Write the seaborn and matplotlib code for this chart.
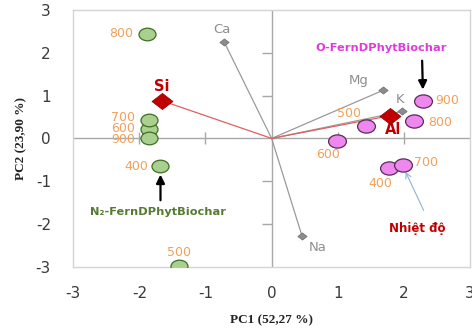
import matplotlib
matplotlib.use("Agg")
import matplotlib.pyplot as plt
import seaborn as sns
import pandas as pd
from matplotlib.path import Path
from matplotlib.transforms import Affine2D

# ---------------- data ----------------
temps = ["400", "500", "600", "700", "800", "900"]
n2_pc1 = [-1.68, -1.40, -1.85, -1.86, -1.88, -1.85]
n2_pc2 = [-0.65, -2.98, 0.23, 0.44, 2.44, 0.02]
o_pc1 = [1.77, 1.42, 0.99, 1.98, 2.15, 2.29]
o_pc2 = [-0.70, 0.28, -0.05, -0.63, 0.40, 0.88]

load_names = ["Ca", "Mg", "K", "Na"]
load_pc1 = [-0.72, 1.68, 1.97, 0.46]
load_pc2 = [2.26, 1.12, 0.63, -2.28]

key_names = ["Si", "Al"]
key_pc1 = [-1.66, 1.79]
key_pc2 = [0.88, 0.53]

xticks = [-3, -2, -1, 0, 1, 2, 3]
yticks = [-3, -2, -1, 0, 1, 2, 3]

# ---------------- style ----------------
sns.set_style("white")
plt.rcParams["font.family"] = ["DejaVu Sans"]
plt.rcParams["axes.unicode_minus"] = False

fig = plt.figure(figsize=(4.72, 3.28), dpi=100)
ax = fig.add_axes([0.155, 0.186, 0.841, 0.784])

ORANGE = "#F3A05A"
GRAY = "#9A9A9A"
RED = "#C00000"

ellipse = Path.unit_circle().transformed(Affine2D().scale(1.35, 1.0))
diamond = Path([(0, 1), (1.3, 0), (0, -1), (-1.3, 0), (0, 1)],
               [Path.MOVETO, Path.LINETO, Path.LINETO, Path.LINETO, Path.CLOSEPOLY])

# zero axes
ax.axhline(0, color="#A8A8A8", lw=1.0, zorder=1)
ax.axvline(0, color="#A8A8A8", lw=1.0, zorder=1)
xt_in = [t for t in xticks if t not in (0, xticks[0], xticks[-1])]
yt_in = [t for t in yticks if t not in (0, yticks[0], yticks[-1])]
ax.plot(xt_in, [0] * len(xt_in), ls="none", marker="|", ms=8, mew=1.0, color="#A8A8A8", zorder=1)
ax.plot([0] * len(yt_in), yt_in, ls="none", marker=0, ms=7, mew=1.0, color="#A8A8A8", zorder=1)

# loading lines
for x, y in zip(load_pc1, load_pc2):
    ax.plot([0, x], [0, y], color=GRAY, lw=0.9, zorder=2)
for x, y in zip(key_pc1, key_pc2):
    ax.plot([0, x], [0, y], color="#E06060", lw=0.9, zorder=2)

# scores
df_n2 = pd.DataFrame({"PC1": n2_pc1, "PC2": n2_pc2, "T": temps})
df_o = pd.DataFrame({"PC1": o_pc1, "PC2": o_pc2, "T": temps})
sns.scatterplot(data=df_n2, x="PC1", y="PC2", marker=ellipse, s=150,
                color="#A9D08E", edgecolor="#3F6E22", linewidth=0.9, ax=ax, zorder=4)
sns.scatterplot(data=df_o, x="PC1", y="PC2", marker=ellipse, s=165,
                color="#EE88EE", edgecolor="#5A2A5A", linewidth=0.9, ax=ax, zorder=4)

# loadings
df_l = pd.DataFrame({"PC1": load_pc1, "PC2": load_pc2})
sns.scatterplot(data=df_l, x="PC1", y="PC2", marker=diamond, s=45,
                color="#8C8C8C", edgecolor="#6E6E6E", linewidth=0.5, ax=ax, zorder=3)
df_k = pd.DataFrame({"PC1": key_pc1, "PC2": key_pc2})
sns.scatterplot(data=df_k, x="PC1", y="PC2", marker=diamond, s=230,
                color=RED, edgecolor="#900000", linewidth=0.5, ax=ax, zorder=5)

# labels for scores (offsets in pixels)
n2_off = {"400": (-12, 0, "right"), "500": (0, 14, "center"), "600": (-14, 0, "right"),
          "700": (-14, 2, "right"), "800": (-14, 0, "right"), "900": (-14, -2, "right")}
o_off = {"400": (-8, -15, "center"), "500": (-17, 13, "center"), "600": (-9, -14, "center"),
         "700": (11, 3, "left"), "800": (14, -1, "left"), "900": (12, 0, "left")}
for t, x, y in zip(temps, n2_pc1, n2_pc2):
    dx, dy, ha = n2_off[t]
    ax.annotate(t, (x, y), xytext=(dx, dy), textcoords="offset pixels",
                ha=ha, va="center", color=ORANGE, fontsize=9)
for t, x, y in zip(temps, o_pc1, o_pc2):
    dx, dy, ha = o_off[t]
    ax.annotate(t, (x, y), xytext=(dx, dy), textcoords="offset pixels",
                ha=ha, va="center", color=ORANGE, fontsize=9)

load_off = {"Ca": (-2, 12), "Mg": (-24, 10), "K": (-2, 12), "Na": (16, -11)}
for n, x, y in zip(load_names, load_pc1, load_pc2):
    dx, dy = load_off[n]
    ax.annotate(n, (x, y), xytext=(dx, dy), textcoords="offset pixels",
                ha="center", va="center", color="#8E8E8E", fontsize=9.5)
key_off = {"Si": (0, 14), "Al": (3, -14)}
for n, x, y in zip(key_names, key_pc1, key_pc2):
    dx, dy = key_off[n]
    ax.annotate(n, (x, y), xytext=(dx, dy), textcoords="offset pixels",
                ha="center", va="center", color=RED, fontsize=10.5, fontweight="bold")

# group annotations
i900 = temps.index("900")
ax.annotate("O-FernDPhytBiochar", (o_pc1[i900], o_pc2[i900]), xytext=(-42, 53),
            textcoords="offset pixels", ha="center", va="center",
            color="#E03ADB", fontsize=8.2, fontweight="bold")
ax.annotate("", (o_pc1[i900], o_pc2[i900]), xytext=(-1, 40), textcoords="offset pixels",
            xycoords="data",
            arrowprops=dict(arrowstyle="-|>,head_width=0.25,head_length=0.5", color="black",
                            lw=1.6, shrinkA=0, shrinkB=8))
i400 = temps.index("400")
ax.annotate("N₂-FernDPhytBiochar", (n2_pc1[i400], n2_pc2[i400]), xytext=(-2, -46),
            textcoords="offset pixels", ha="center", va="center",
            color="#557A30", fontsize=8.2, fontweight="bold")
ax.annotate("", (n2_pc1[i400], n2_pc2[i400]), xytext=(0, -34), textcoords="offset pixels",
            arrowprops=dict(arrowstyle="-|>,head_width=0.25,head_length=0.5", color="black",
                            lw=1.6, shrinkA=0, shrinkB=6))
i700 = temps.index("700")
ax.annotate("Nhiệt độ", (o_pc1[i700], o_pc2[i700]), xytext=(15, -63),
            textcoords="offset pixels", ha="center", va="center",
            color=RED, fontsize=8.5, fontweight="bold")
ax.annotate("", (o_pc1[i700], o_pc2[i700]), xytext=(21, -45), textcoords="offset pixels",
            arrowprops=dict(arrowstyle="->,head_width=0.2,head_length=0.4", color="#8FB4D8",
                            lw=0.8, shrinkA=0, shrinkB=5))

# axes
ax.set_xlim(xticks[0], xticks[-1])
ax.set_ylim(yticks[0], yticks[-1])
ax.set_xticks(xticks)
ax.set_yticks(yticks)
ax.tick_params(length=0, labelsize=11, labelcolor="#3A3A3A", pad=16)
ax.tick_params(axis="x", pad=14)
for s in ax.spines.values():
    s.set_color("#D4D4D4")
    s.set_linewidth(1.0)
ax.set_xlabel("PC1 (52,27 %)", family="Liberation Serif", fontweight="bold", fontsize=9.5,
              color="#222222", labelpad=9)
ax.set_ylabel("PC2 (23,90 %)", family="Liberation Serif", fontweight="bold", fontsize=9.5,
              color="#222222", labelpad=6)

fig.savefig("out.png", dpi=100)
